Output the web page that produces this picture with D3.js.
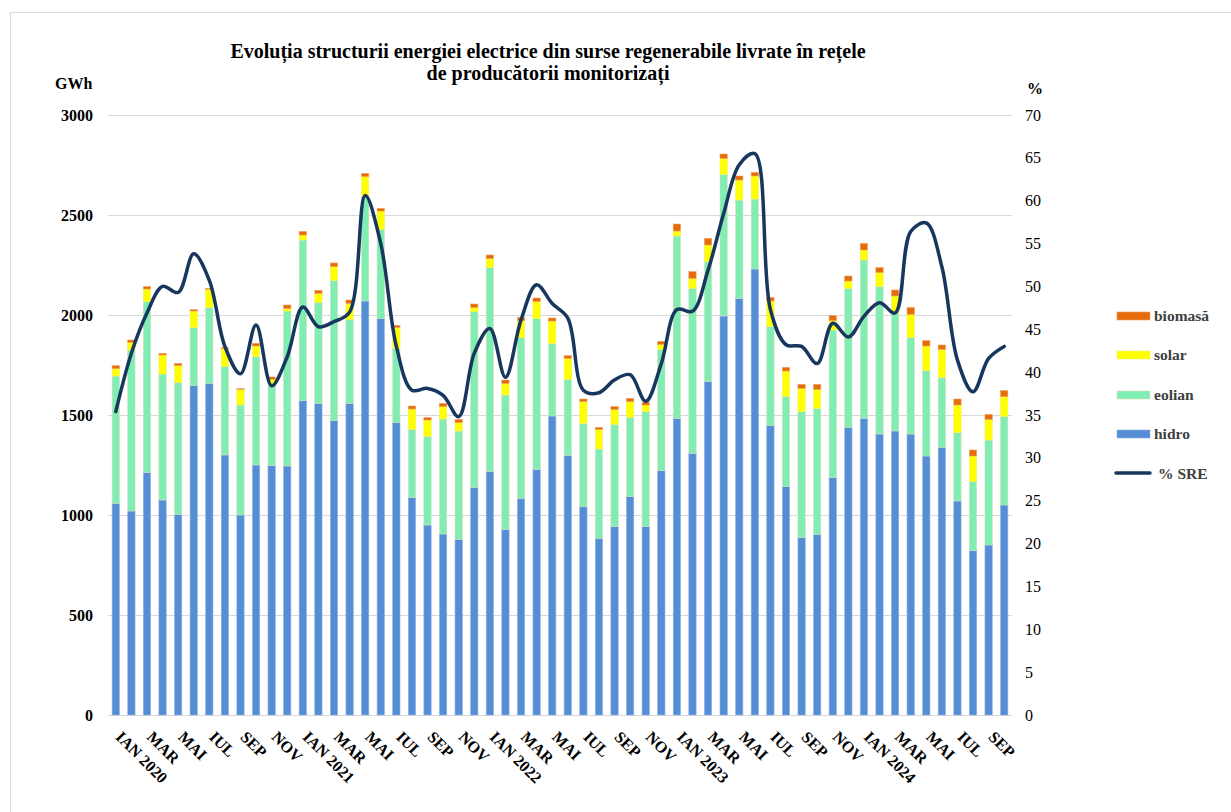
<!DOCTYPE html>
<html>
<head>
<meta charset="utf-8">
<script src="https://cdn.jsdelivr.net/npm/d3@7"></script>
<style>
  html, body { margin: 0; padding: 0; background: #fff; }
  svg { display: block; }
  text { font-family: "Liberation Serif", "Times New Roman", serif; }
</style>
</head>
<body>
<svg id="chart" width="1231" height="812"></svg>
<script>
// ---- DATA (GWh per month, Jan 2020 – Oct 2024) ----
const months = d3.range(58);
const hidro = [1058,1020,1212,1075,1003,1647,1658,1300,1000,1250,1247,1245,
               1572,1558,1472,1558,2070,1983,1463,1087,950,905,878,1138,
               1217,928,1083,1228,1495,1297,1042,883,942,1092,942,1222,
               1483,1308,1667,1995,2082,2230,1447,1142,887,903,1187,1438,
               1483,1405,1420,1405,1295,1338,1070,822,850,1050];
const eolian = [637,805,855,630,660,290,379,442,550,542,411,775,
                803,505,700,420,518,445,370,341,442,575,542,879,
                1021,672,804,754,363,381,416,447,511,396,575,606,
                912,825,600,708,493,350,495,450,630,630,738,695,
                792,737,588,482,427,350,342,345,525,442];
const solar = [37,38,63,95,84,83,91,91,78,53,20,13,
               25,45,70,80,104,92,105,102,83,62,42,21,
               45,58,85,85,112,105,109,98,75,79,33,25,
               25,50,83,80,100,115,128,128,116,95,47,37,
               50,70,87,116,123,140,138,128,103,100];
const biomasa = [15,12,12,8,11,7,5,5,4,13,12,17,
                 18,15,18,17,16,13,10,15,12,16,16,17,
                 17,17,16,18,15,14,13,10,14,16,13,15,
                 35,34,33,22,20,18,18,18,20,25,25,25,
                 33,25,30,34,27,22,30,30,25,30];
const pctSRE = [35.4,42.2,46.9,50.0,49.3,53.8,50.7,43.0,39.8,45.5,38.4,41.8,
                47.6,45.3,45.9,47.0,60.6,55.0,43.0,37.9,38.1,37.3,34.8,42.2,
                45.1,39.4,46.1,50.2,48.0,46.3,37.9,37.6,39.1,39.7,36.6,41.0,
                47.3,47.1,51.9,58.5,64.2,65.5,47.3,43.2,43.0,41.0,45.7,44.1,
                46.5,48.1,46.9,56.4,57.4,52.3,41.4,37.7,41.6,43.0];
const tickLabels = ["IAN 2020","MAR","MAI","IUL","SEP","NOV",
                    "IAN 2021","MAR","MAI","IUL","SEP","NOV",
                    "IAN 2022","MAR","MAI","IUL","SEP","NOV",
                    "IAN 2023","MAR","MAI","IUL","SEP","NOV",
                    "IAN 2024","MAR","MAI","IUL","SEP"];
const leftTicks = [0,500,1000,1500,2000,2500,3000];
const rightTicks = d3.range(0,71,5);
const seriesKeys = ["hidro","eolian","solar","biomasa"];
const seriesNames = {hidro:"hidro", eolian:"eolian", solar:"solar", biomasa:"biomasă"};
const colors = {hidro:"#558ED5", eolian:"#80EDB2", solar:"#FFFF00", biomasa:"#E46C0A"};
const strokes = {hidro:"#8fb3e3", eolian:"#dcdcc0", solar:"#f0f070", biomasa:"#f0a060"};
const lineColor = "#17375E";

// ---- build table ----
const table = months.map(i => ({i, hidro: hidro[i], eolian: eolian[i], solar: solar[i], biomasa: biomasa[i]}));

const svg = d3.select("#chart");
const plot = {left: 108, right: 1012, top: 115, bottom: 715};

// outer border
svg.append("rect").attr("x", 10.5).attr("y", 12.5).attr("width", 1240).attr("height", 820)
  .attr("fill", "none").attr("stroke", "#d9d9d9").attr("stroke-width", 1);

const x = d3.scaleBand().domain(months).range([plot.left, plot.right]).paddingInner(0.53).paddingOuter(0.265);
const y = d3.scaleLinear().domain([0, 3000]).range([plot.bottom, plot.top]);
const y2 = d3.scaleLinear().domain([0, 70]).range([plot.bottom, plot.top]);

// gridlines
svg.append("g").selectAll("line").data(leftTicks).join("line")
  .attr("x1", plot.left).attr("x2", plot.right)
  .attr("y1", d => Math.round(y(d)) + 0.5).attr("y2", d => Math.round(y(d)) + 0.5)
  .attr("stroke", "#d9d9d9").attr("stroke-width", 1);

// stacked bars
const stacked = d3.stack().keys(seriesKeys)(table);
svg.append("g").selectAll("g").data(stacked).join("g")
  .attr("fill", d => colors[d.key])
  .attr("stroke", d => strokes[d.key])
  .attr("stroke-width", 0.6)
  .selectAll("rect").data(d => d).join("rect")
  .attr("x", d => x(d.data.i))
  .attr("width", x.bandwidth())
  .attr("y", d => y(d[1]))
  .attr("height", d => y(d[0]) - y(d[1]));

// line
const line = d3.line()
  .x((d, i) => x(i) + x.bandwidth() / 2)
  .y(d => y2(d))
  .curve(d3.curveCatmullRom.alpha(0.5));
svg.append("path").datum(pctSRE).attr("d", line)
  .attr("fill", "none").attr("stroke", lineColor).attr("stroke-width", 3.5)
  .attr("stroke-linejoin", "round").attr("stroke-linecap", "round");

// left axis
const axL = svg.append("g").attr("transform", `translate(${plot.left - 15},0)`)
  .call(d3.axisLeft(y).tickValues(leftTicks).tickSize(0).tickPadding(0).tickFormat(d3.format("d")));
axL.select(".domain").remove();
axL.selectAll("text").attr("font-family", "Liberation Serif").attr("font-weight", "bold")
  .attr("font-size", 16).attr("fill", "#000");

// right axis
const axR = svg.append("g").attr("transform", `translate(${plot.right + 13},0)`)
  .call(d3.axisRight(y2).tickValues(rightTicks).tickSize(0).tickPadding(0).tickFormat(d3.format("d")));
axR.select(".domain").remove();
axR.selectAll("text").attr("font-family", "Liberation Serif")
  .attr("font-size", 16).attr("fill", "#000");

// x labels
const labelIdx = tickLabels.map((t, k) => k * 2);
svg.append("g").selectAll("text").data(labelIdx).join("text")
  .attr("transform", (d) => `translate(${x(d) + x.bandwidth() / 2 - 1},${plot.bottom + 23}) rotate(45)`)
  .attr("text-anchor", "start")
  .attr("font-weight", "bold").attr("font-size", 16).attr("fill", "#000")
  .text((d, k) => tickLabels[k]);

// axis titles
svg.append("text").attr("x", 55).attr("y", 89).attr("font-weight", "bold").attr("font-size", 16).text("GWh");
svg.append("text").attr("x", 1027).attr("y", 94).attr("font-weight", "bold").attr("font-size", 16).text("%");

// title
const title = svg.append("text").attr("text-anchor", "middle").attr("font-weight", "bold").attr("font-size", 20);
title.append("tspan").attr("x", 548).attr("y", 58).text("Evoluția structurii energiei electrice din surse regenerabile livrate în rețele");
title.append("tspan").attr("x", 548).attr("y", 80).text("de producătorii monitorizați");

// legend
const legendItems = [
  {key: "biomasa", y: 316}, {key: "solar", y: 355}, {key: "eolian", y: 395}, {key: "hidro", y: 434}
];
const lg = svg.append("g");
legendItems.forEach(it => {
  lg.append("rect").attr("x", 1117).attr("y", it.y - 4).attr("width", 33).attr("height", 8)
    .attr("fill", colors[it.key]).attr("stroke", strokes[it.key]).attr("stroke-width", 0.6);
  lg.append("text").attr("x", 1154).attr("y", it.y + 5).attr("font-weight", "bold").attr("font-size", 15.5)
    .attr("fill", "#404040").text(seriesNames[it.key]);
});
lg.append("line").attr("x1", 1116).attr("x2", 1150).attr("y1", 473).attr("y2", 473)
  .attr("stroke", lineColor).attr("stroke-width", 3.5).attr("stroke-linecap", "round");
lg.append("text").attr("x", 1158).attr("y", 479).attr("font-weight", "bold").attr("font-size", 15.5)
  .attr("fill", "#404040").text("% SRE");
</script>
</body>
</html>
